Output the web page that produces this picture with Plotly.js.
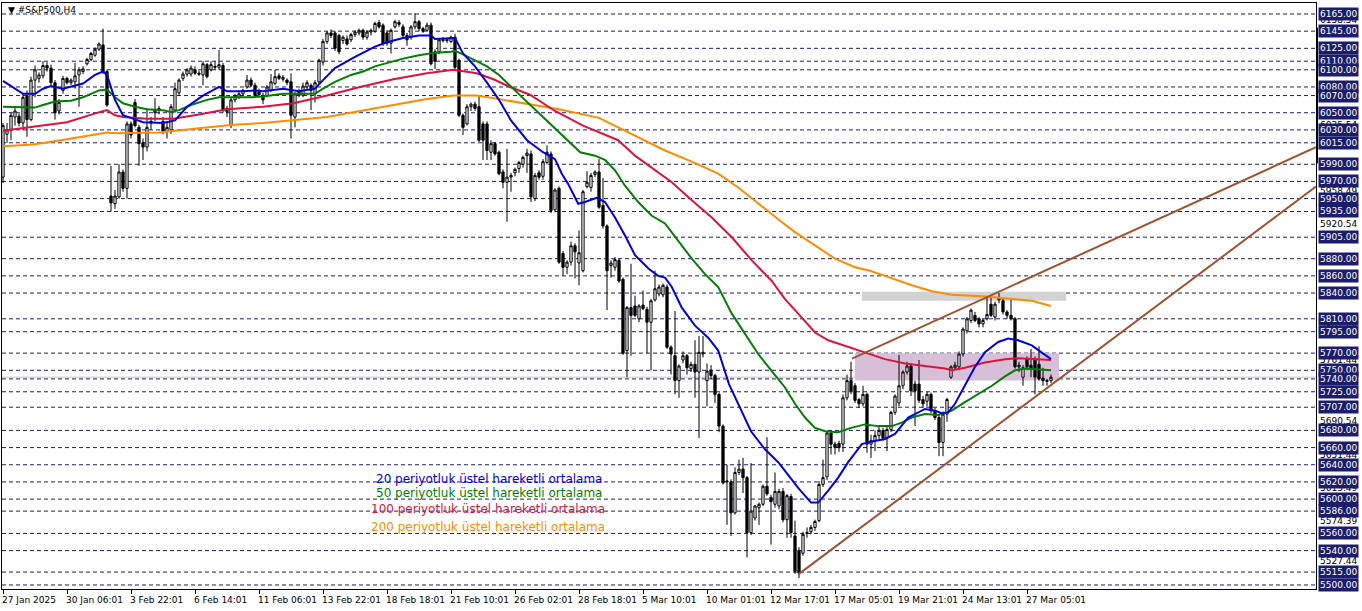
<!DOCTYPE html>
<html><head><meta charset="utf-8">
<script src="https://cdn.plot.ly/plotly-3.0.1.min.js"></script>
<style>html,body{margin:0;padding:0;background:#fff;}#chart{width:1362px;height:611px;}</style>
</head><body><div id="chart"></div>
<script>
// ---- candle data (H4 bars, index 0 = 27 Jan 2025) ----
const openV = [5975,6025,6030,6045,6046,6038,6070,6042,6088,6090, 6093,6105,6102,6085,6052,6076,6090,6085,6086,6094, 6098,6107,6112,6117,6124,6129,6098,5953,5944,5952, 5981,5962,6037,6062,6033,6015,6010,6040,6050,6053, 6040,6028,6030,6053,6073,6090,6095,6095,6100,6096, 6094,6106,6100,6104,6103,6105,6055,6035,6065,6068, 6072,6080,6088,6082,6074,6070,6070,6076,6084,6093, 6089,6088,6086,6045,6075,6070,6080,6082,6072,6086, 6109,6133,6143,6143,6140,6134,6136,6135,6141,6143, 6146,6138,6144,6145,6155,6152,6143,6131,6150,6155, 6150,6140,6138,6150,6156,6148,6146,6152,6121,6121, 6135,6134,6133,6138,6111,6047,6037,6057,6060,6057, 6037,6037,6004,6014,6004,5981,5969,5975,5980,5985, 5990,6000,6002,5950,5980,5976,5992,6002,5937,5962, 5886,5870,5876,5895,5875,5866,5964,5963,5978,5981, 5942,5918,5872,5870,5878,5856,5773,5823,5825,5810, 5826,5821,5806,5832,5839,5838,5847,5777,5767,5738, 5762,5767,5752,5757,5748,5769,5738,5750,5744,5722, 5685,5620,5620,5584,5631,5635,5625,5561,5578,5590, 5594,5615,5602,5594,5592,5609,5576,5603,5557,5540, 5537,5560,5562,5567,5575,5617,5626,5677,5664,5665, 5664,5718,5738,5732,5716,5711,5722,5664,5668,5674, 5680,5671,5681,5701,5712,5732,5748,5755,5734,5734, 5716,5714,5722,5703,5695,5666,5699,5742,5753,5754, 5769,5796,5808,5814,5810,5804,5810,5827,5812,5832, 5831,5818,5814,5810,5754,5742,5763,5756,5763,5757, 5741,5737,5738];
const highV = [6038,6038,6050,6056,6049,6073,6076,6092,6105,6097, 6110,6109,6106,6088,6066,6093,6092,6090,6108,6103, 6104,6114,6121,6126,6132,6148,6100,5988,5960,5990, 5984,6040,6040,6066,6036,6020,6055,6045,6067,6058, 6045,6038,6060,6085,6090,6098,6102,6105,6104,6099, 6110,6108,6110,6110,6123,6108,6058,6068,6072,6074, 6078,6094,6091,6085,6078,6073,6082,6095,6100,6096, 6094,6090,6096,6074,6078,6085,6088,6084,6088,6113, 6136,6145,6147,6145,6142,6140,6140,6143,6146,6148, 6148,6146,6148,6156,6158,6154,6146,6148,6158,6158, 6153,6143,6152,6166,6158,6150,6155,6155,6124,6137, 6138,6137,6140,6142,6113,6049,6060,6062,6063,6070, 6040,6040,6018,6016,6006,5984,6008,5980,5986,5994, 6000,6008,6006,5980,5983,5996,6012,6005,5962,5964, 5889,5878,5900,5898,5913,5960,5982,5980,5983,5996, 5974,5920,5878,5882,5880,5858,5825,5874,5837,5827, 5843,5824,5833,5866,5850,5851,5850,5779,5819,5757, 5772,5769,5760,5785,5790,5790,5758,5756,5746,5724, 5687,5640,5623,5637,5646,5648,5627,5642,5593,5596, 5617,5672,5605,5631,5612,5613,5606,5606,5575,5544, 5562,5567,5570,5576,5621,5646,5680,5680,5667,5668, 5722,5745,5760,5735,5718,5732,5724,5675,5680,5684, 5683,5685,5703,5722,5768,5750,5760,5758,5738,5762, 5720,5725,5724,5706,5698,5702,5718,5756,5760,5772, 5800,5812,5822,5818,5812,5810,5835,5835,5830,5840, 5834,5820,5833,5812,5760,5756,5766,5775,5766,5778, 5753,5740,5745];
const lowV = [5968,6015,6018,6035,6034,6030,6022,6040,6068,6085, 6090,6098,6082,6042,6048,6072,6083,6082,6078,6057, 6095,6105,6110,6115,6122,6095,6057,5935,5938,5950, 5958,5950,6020,6033,5988,5995,6005,6030,6040,6048, 6025,6020,6025,6050,6070,6087,6092,6092,6094,6093, 6082,6090,6098,6100,6100,6050,6045,6032,6062,6066, 6070,6078,6080,6068,6068,6060,6068,6074,6082,6088, 6086,6082,6020,6033,6068,6068,6077,6053,6062,6083, 6105,6130,6137,6122,6118,6130,6128,6132,6138,6140, 6135,6135,6140,6143,6148,6128,6128,6119,6148,6150, 6138,6128,6135,6147,6145,6143,6144,6105,6101,6118, 6132,6131,6131,6100,6045,6024,6035,6052,6052,6016, 5995,5995,5995,6000,5977,5962,5923,5958,5976,5980, 5986,5980,5946,5947,5972,5972,5990,5933,5934,5874, 5860,5862,5872,5857,5849,5864,5962,5958,5975,5938, 5915,5820,5858,5866,5852,5768,5742,5767,5812,5806, 5820,5770,5750,5830,5836,5835,5775,5745,5722,5718, 5758,5745,5748,5718,5671,5765,5708,5740,5712,5678, 5617,5570,5557,5582,5628,5607,5532,5558,5575,5570, 5592,5604,5547,5590,5588,5573,5555,5555,5513,5508, 5534,5555,5559,5563,5573,5614,5622,5652,5652,5655, 5655,5715,5722,5712,5706,5708,5654,5648,5656,5670, 5668,5656,5678,5698,5708,5728,5745,5720,5685,5712, 5706,5708,5700,5692,5650,5650,5690,5740,5750,5750, 5766,5793,5805,5806,5800,5800,5808,5812,5808,5828, 5815,5810,5808,5752,5748,5732,5750,5742,5722,5738, 5732,5732,5735];
const closeV = [6035,6030,6047,6052,6038,6068,6042,6088,6100,6094, 6105,6102,6085,6050,6062,6090,6085,6088,6093,6100, 6101,6112,6119,6124,6130,6098,6059,5945,5953,5981, 5962,6037,6024,6035,6014,6010,6033,6038,6053,6055, 6028,6033,6057,6078,6088,6095,6100,6102,6096,6095, 6107,6092,6106,6103,6106,6053,6051,6065,6070,6072, 6076,6088,6082,6070,6071,6065,6080,6086,6092,6090, 6091,6085,6047,6072,6070,6081,6085,6076,6085,6111, 6133,6143,6140,6125,6121,6138,6130,6141,6144,6146, 6138,6144,6146,6154,6150,6131,6131,6146,6156,6153, 6140,6135,6150,6156,6148,6145,6152,6107,6110,6135, 6134,6135,6138,6103,6047,6033,6057,6060,6055,6018, 6018,6006,6014,6002,5979,5969,5975,5977,5984,5992, 5998,6003,5952,5977,5975,5993,6004,5936,5960,5876, 5870,5876,5895,5888,5887,5958,5969,5977,5981,5940, 5918,5866,5875,5879,5854,5770,5823,5814,5814,5825, 5822,5806,5831,5845,5847,5849,5777,5769,5738,5755, 5767,5753,5757,5748,5771,5771,5749,5744,5722,5685, 5619,5621,5584,5631,5635,5625,5561,5586,5592,5594, 5615,5606,5597,5609,5609,5576,5604,5561,5516,5514, 5559,5561,5567,5574,5617,5625,5677,5664,5660,5660, 5718,5738,5726,5715,5711,5722,5664,5668,5674,5680, 5671,5681,5701,5720,5732,5748,5755,5726,5726,5715, 5711,5722,5703,5695,5666,5699,5716,5754,5756,5769, 5798,5810,5820,5808,5804,5808,5815,5814,5827,5834, 5818,5814,5810,5754,5756,5753,5754,5751,5742,5740, 5738,5738,5742];

// ---- moving averages (bar index, value) ----
const ema20X = [0,5,8,10,12,15,20,23,25,26,28,30,32,35,40,43,46,50,54,56,60,63,65,70,74,78,80,83,88,93,96,100,104,107,108,113,115,118,121,124,127,130,131,135,138,139.7,141.3,143.8,145.5,148.4,150.5,153,155.5,158,161.5,163.8,165.5,167.2,169.7,173,176.3,178.8,181.5,183.8,187,190.5,193.8,195.5,198.8,202,203.8,206.3,208.8,211.3,214.7,217.2,220.5,223,226.3,230.5,233,234.7,236.3,238,240.5,243,245.5,248.8,251.3,253.8,257.2,259.7,262];
const ema20Y = [6087,6072,6072,6078,6081,6078,6084,6094,6098,6094,6065,6047,6044,6039,6038,6041,6057,6070,6080,6075,6075,6076,6075,6078,6075,6078,6088,6102,6115,6127,6132,6137,6140,6140,6136,6137,6119,6104,6085,6065,6041,6024,6018,6004,5996,5979,5967,5944,5946,5951,5946,5928,5907,5884,5868,5860,5858,5847,5823,5802,5788,5773,5734,5711,5679,5658,5643,5633,5613,5596,5596,5610,5625,5643,5664,5667,5670,5676,5695,5705,5703,5700,5701,5711,5732,5754,5771,5783,5787,5785,5779,5771,5763];
const ema50X = [0,5,8,10,13,17,20,22,24,26,28,30,33,36,40,42,44,47,51,54,58,62,65,70,75,78,80,83,87,90,93,97,100,104,108,112,113,115,118,121,124,127,130,135,141.3,144.3,148,150.5,153,155.5,158.8,162.2,165.5,168.8,172.2,175.5,178.8,182.2,185.5,188.8,192.2,195.5,198,200.5,203,205.5,208.8,212,215.5,218.8,222.2,224.7,227.2,230.5,233.8,237.2,240.5,243.8,247.2,250.5,253,255.5,258.8,262];
const ema50Y = [6057,6056,6056,6059,6063,6064,6068,6072,6076,6077,6068,6061,6057,6054,6053,6051,6053,6059,6065,6068,6068,6068,6069,6072,6072,6072,6078,6086,6094,6098,6104,6109,6113,6117,6120,6121,6122,6118,6111,6104,6094,6080,6067,6045,6018,6004,6000,5995,5983,5965,5946,5930,5921,5901,5880,5862,5847,5816,5792,5769,5749,5730,5711,5695,5683,5679,5678,5683,5687,5685,5685,5689,5695,5699,5698,5703,5713,5722,5732,5743,5750,5752,5751,5750];
const ema100X = [0,7.6,16,24.3,26,28,30,36,42.6,49,56,65,72.6,81,89.25,97.6,106,112.6,114.25,118.4,122.6,126.75,131.75,138,145,153.8,158,163.8,167.2,172.2,177.2,182.2,187.2,192.2,195.5,198.8,203,206.3,212,215.5,220.5,225.5,230.5,235.5,237.2,240.5,245.5,250.5,253.8,258.8,262];
const ema100Y = [6029,6034,6039,6051,6053,6047,6045,6043,6043,6048,6054,6057,6061,6070,6080,6089,6096,6100,6099,6096,6089,6080,6071,6052,6035,6018,6000,5981,5969,5948,5928,5905,5878,5854,5833,5816,5794,5785,5776,5771,5763,5758,5755,5752,5750,5753,5759,5763,5764,5763,5762];
const ema200X = [0,7.6,16,24.3,26,28.4,39,49,57.6,65,81,97.6,106,112.6,118.4,122.6,127.6,131.75,139,149,160.5,165.5,172.2,178.8,183.8,188.8,193.8,198,203,208,213,216.75,220.5,227.2,232.2,237.2,245.5,252.2,257.2,262];
const ema200Y = [6011,6013,6019,6026,6027,6026,6027,6032,6036,6038,6045,6059,6066,6070,6070,6067,6063,6060,6054,6044,6018,6006,5993,5979,5963,5944,5926,5911,5895,5880,5870,5866,5860,5849,5842,5838,5836,5833,5831,5825];

// ---- axis labels / levels ----
const tickBars = [0,16,32,48,64,80,96,112,128,144,160,176,192,208,224,240,256];
const tickText = ["27 Jan 2025","30 Jan 06:01","3 Feb 22:01","6 Feb 14:01","11 Feb 06:01","13 Feb 22:01","18 Feb 18:01","21 Feb 10:01","26 Feb 02:01","28 Feb 18:01","5 Mar 10:01","10 Mar 01:01","12 Mar 17:01","17 Mar 05:01","19 Mar 21:01","24 Mar 13:01","27 Mar 05:01"];
const levels = [6165,6145,6125,6110,6100,6080,6070,6050,6030,6015,5990,5970,5950,5935,5905,5880,5860,5840,5810,5795,5770,5750,5740,5725,5707,5680,5660,5640,5620,5600,5586,5560,5540,5515,5500];
const otherLevels = [6158.54,6035.54,5987.58,5958.49,5920.54,5801.44,5761.44,5690.54,5651.44,5613.49,5574.39,5527.44,5490.54];
// trend lines: [bar0, price0, bar1, price1]
const trendLower = [198.75, 5512, 328.25, 5964];
const trendUpper = [212.25, 5763.6, 328.25, 6009.8];
// zones: [bar0, bar1, priceLow, priceHigh]
const grayZone = [214.75, 265.75, 5831, 5841.5];
const purpleZone = [213, 264, 5738, 5770];
const bidPrice = 5742;
const legendItems = ["20 periyotluk üstel hareketli ortalama","50 periyotluk üstel hareketli ortalama","100 periyotluk üstel hareketli ortalama","200 periyotluk üstel hareketli ortalama"];
const emaColors = ["#0000E6","#008000","#DC143C","#FF8C00"];

const bars = openV.map((_, i) => i);
const F = "DejaVu Sans, Verdana, sans-serif";

const traces = [
  {type:'candlestick', x:bars, open:openV, high:highV, low:lowV, close:closeV,
   increasing:{line:{color:'#000000',width:1}, fillcolor:'#FFFFFF'},
   decreasing:{line:{color:'#000000',width:1}, fillcolor:'#000000'},
   whiskerwidth:0, hoverinfo:'skip', showlegend:false},
  {type:'scatter', mode:'lines', x:ema200X, y:ema200Y, line:{color:emaColors[3], width:2}, hoverinfo:'skip'},
  {type:'scatter', mode:'lines', x:ema100X, y:ema100Y, line:{color:emaColors[2], width:2}, hoverinfo:'skip'},
  {type:'scatter', mode:'lines', x:ema50X, y:ema50Y, line:{color:emaColors[1], width:2}, hoverinfo:'skip'},
  {type:'scatter', mode:'lines', x:ema20X, y:ema20Y, line:{color:emaColors[0], width:2}, hoverinfo:'skip'}
];

const shapes = [];
shapes.push({type:'rect', xref:'x', yref:'y', x0:grayZone[0], x1:grayZone[1], y0:grayZone[2], y1:grayZone[3], fillcolor:'#D3D3D3', line:{width:0}, layer:'below'});
shapes.push({type:'rect', xref:'x', yref:'y', x0:purpleZone[0], x1:purpleZone[1], y0:purpleZone[2], y1:purpleZone[3], fillcolor:'#D8BFD8', line:{width:0}, layer:'below'});
levels.forEach(v => shapes.push({type:'line', xref:'paper', yref:'y', x0:0, x1:1, y0:v, y1:v, line:{color:'#1C1C78', width:1, dash:'4px,3px'}, layer:'below'}));
shapes.push({type:'line', xref:'paper', yref:'y', x0:0, x1:1, y0:bidPrice, y1:bidPrice, line:{color:'#C0C0C0', width:1}, layer:'below'});
shapes.push({type:'line', xref:'x', yref:'y', x0:trendLower[0], y0:trendLower[1], x1:trendLower[2], y1:trendLower[3], line:{color:'#A0522D', width:2}, layer:'above'});
shapes.push({type:'line', xref:'x', yref:'y', x0:trendUpper[0], y0:trendUpper[1], x1:trendUpper[2], y1:trendUpper[3], line:{color:'#A0522D', width:2}, layer:'above'});
shapes.push({type:'line', xref:'paper', yref:'y', x0:1.0008, x1:1.0008, y0:5991, y1:6149, line:{color:'#000000', width:2}});

const ann = [];
otherLevels.forEach(v => ann.push({xref:'paper', yref:'y', x:1, y:v, xanchor:'left', yanchor:'middle', xshift:2, showarrow:false, text:v.toFixed(2), font:{family:F, size:9, color:'#000000'}, borderpad:1}));
levels.forEach(v => ann.push({xref:'paper', yref:'y', x:1, y:v, xanchor:'left', yanchor:'middle', xshift:2, showarrow:false, text:v.toFixed(2), font:{family:F, size:9, color:'#FFFFFF'}, bgcolor:'#1C1C6C', borderpad:1}));
tickBars.forEach((b, i) => ann.push({xref:'x', yref:'paper', x:b, y:0, xanchor:'left', yanchor:'top', xshift:-3, yshift:-4, showarrow:false, text:tickText[i], font:{family:F, size:9, color:'#000000'}}));
const legY = [479, 493, 509, 527], legX = [374, 374, 369, 369];
legendItems.forEach((t, i) => ann.push({xref:'paper', yref:'paper', x:(legX[i]-2)/1314, y:(589-legY[i])/586, xanchor:'left', yanchor:'middle', showarrow:false, text:t, font:{family:F, size:12, color:emaColors[i]}}));
ann.push({xref:'paper', yref:'paper', x:(6-2)/1314, y:(589-10)/586, xanchor:'left', yanchor:'middle', showarrow:false, text:'▼ #S&amp;P500,H4', font:{family:F, size:9, color:'#000000'}});

const layout = {
  width:1362, height:611, autosize:false,
  margin:{l:2, r:46, t:3, b:22, pad:0},
  paper_bgcolor:'#FFFFFF', plot_bgcolor:'#FFFFFF', showlegend:false,
  boxgap:0.2,
  xaxis:{range:[-0.25, 328.25], showgrid:false, zeroline:false, showline:true, mirror:true, linecolor:'#000000', linewidth:1,
         ticks:'outside', ticklen:4, tickcolor:'#000000', tickmode:'array', tickvals:tickBars, showticklabels:false,
         rangeslider:{visible:false}, fixedrange:true},
  yaxis:{range:[5495.3, 6177.8], showgrid:false, zeroline:false, showline:true, mirror:true, linecolor:'#000000', linewidth:1,
         ticks:'', showticklabels:false, fixedrange:true},
  shapes:shapes, annotations:ann
};
Plotly.newPlot('chart', traces, layout, {displayModeBar:false, staticPlot:true});
</script></body></html>
